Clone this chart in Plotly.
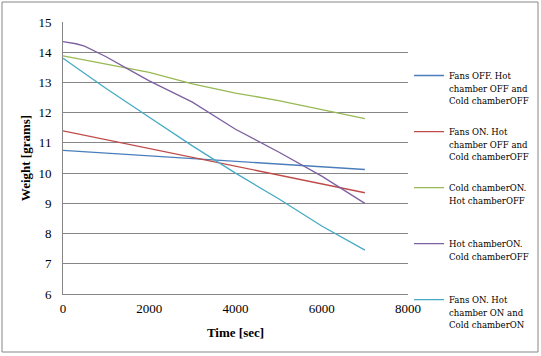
import plotly.graph_objects as go

time_s = [0, 1000, 2000, 3000, 4000, 5000, 6000, 7000]
fans_off = [10.75, 10.66, 10.57, 10.48, 10.39, 10.30, 10.21, 10.12]
fans_on = [11.40, 11.11, 10.81, 10.52, 10.23, 9.94, 9.65, 9.35]
cold_on = [13.88, 13.60, 13.33, 12.95, 12.65, 12.40, 12.10, 11.80]
hot_on_t = [0, 300, 500, 1000, 1500, 2000, 3000, 4000, 5000, 6000, 7000]
hot_on = [14.35, 14.28, 14.20, 13.85, 13.45, 13.05, 12.35, 11.45, 10.70, 9.90, 9.00]
all_on = [13.80, 12.80, 11.85, 10.90, 10.00, 9.15, 8.25, 7.45]

names = [
    "Fans OFF. Hot<br>chamber OFF and<br>Cold chamberOFF",
    "Fans ON. Hot<br>chamber OFF and<br>Cold chamberOFF",
    "Cold chamberON.<br>Hot chamberOFF<br> ",
    "Hot chamberON.<br>Cold chamberOFF<br> ",
    "Fans ON. Hot<br>chamber ON and<br>Cold chamberON",
]
colors = ["#4a7ebb", "#be4b48", "#98b954", "#7d60a0", "#46aac5"]
xs = [time_s, time_s, time_s, hot_on_t, time_s]
ys = [fans_off, fans_on, cold_on, hot_on, all_on]

fig = go.Figure()
for i, (x, y, n, c) in enumerate(zip(xs, ys, names, colors)):
    fig.add_trace(go.Scatter(x=x, y=y, mode="lines", name=n, legendgroup=str(i),
                             line=dict(color=c, width=1.3)))

font = "Liberation Serif, Times New Roman, serif"
fig.update_layout(
    width=541, height=356,
    margin=dict(l=63, r=133, t=22, b=62, autoexpand=False),
    plot_bgcolor="white", paper_bgcolor="white",
    font=dict(family=font, size=13, color="black"),
    showlegend=True,
    legend=dict(x=1.003, y=0.85, xanchor="left", yanchor="top",
                font=dict(family="DejaVu Serif Condensed, DejaVu Serif, serif", size=9.5),
                valign="top", maxheight=350,
                tracegroupgap=16, itemwidth=30, bgcolor="rgba(0,0,0,0)"),
    xaxis=dict(range=[0, 8000], dtick=2000, showgrid=False, zeroline=False,
               showline=True, linecolor="#868686", linewidth=1,
               ticks="outside", ticklen=2, tickcolor="rgba(0,0,0,0)",
               title=dict(text="<b>Time [sec]</b>", font=dict(size=13), standoff=13),
               tickfont=dict(size=13)),
    yaxis=dict(range=[6, 15], dtick=1, showgrid=True, gridcolor="#868686", gridwidth=1,
               zeroline=False, showline=True, linecolor="#868686", linewidth=1,
               ticks="outside", ticklen=8, tickcolor="rgba(0,0,0,0)",
               title=dict(text="<b>Weight [grams]</b>", font=dict(size=13), standoff=4),
               tickfont=dict(size=13)),
    shapes=[dict(type="rect", xref="paper", yref="paper",
                 x0=(2 - 63) / 345, x1=(538 - 63) / 345,
                 y0=(294 - 352) / 272, y1=(294 - 2) / 272,
                 line=dict(color="#868686", width=1), layer="below")],
)
fig.write_html("out.html", config={"displayModeBar": False},
               post_script="document.body.style.margin='0';document.body.style.overflow='hidden';")
